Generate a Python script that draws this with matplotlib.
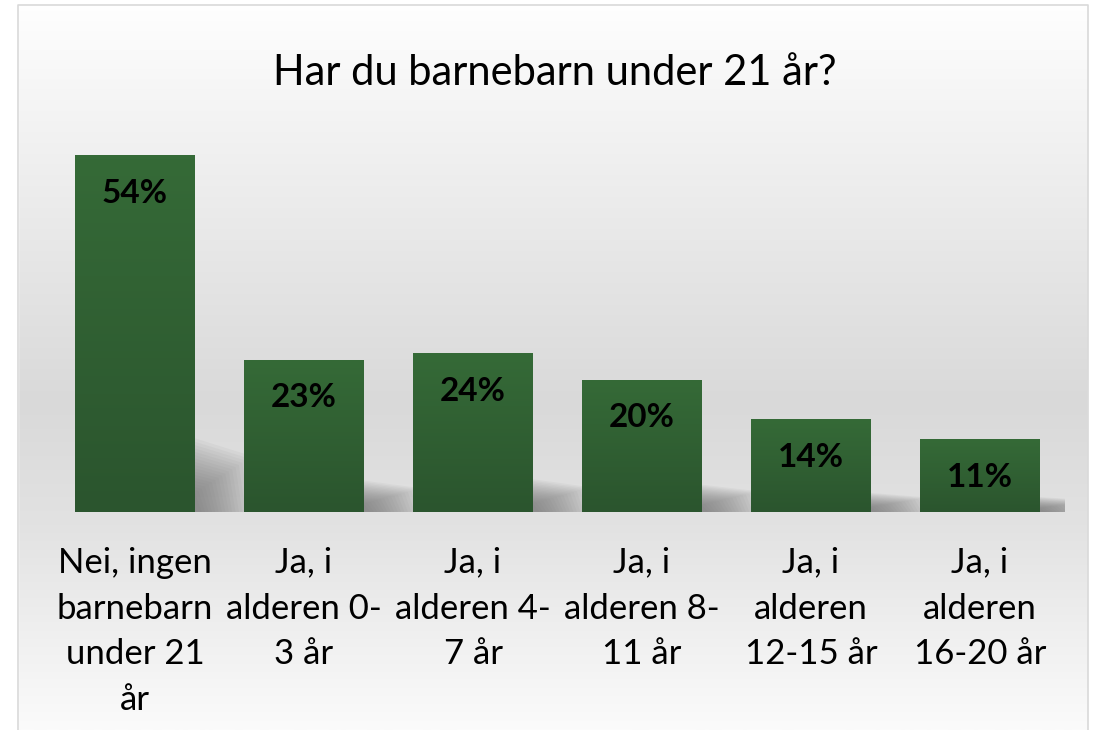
import numpy as np
import matplotlib
matplotlib.use("Agg")
import matplotlib.pyplot as plt
from matplotlib.colors import LinearSegmentedColormap
from matplotlib.patches import Polygon, Rectangle

plt.rcParams['font.family'] = ['Lato', 'DejaVu Sans']

# data
categories = ["Nei, ingen\nbarnebarn\nunder 21\når",
              "Ja, i\nalderen 0-\n3 år",
              "Ja, i\nalderen 4-\n7 år",
              "Ja, i\nalderen 8-\n11 år",
              "Ja, i\nalderen\n12-15 år",
              "Ja, i\nalderen\n16-20 år"]
values = [54, 23, 24, 20, 14, 11]
value_labels = ["54%", "23%", "24%", "20%", "14%", "11%"]
title = "Har du barnebarn under 21 år?"

fig = plt.figure(figsize=(10.94, 7.30), dpi=100)

# background gradient (white -> light gray -> white)
bg = fig.add_axes([0, 0, 1, 1], zorder=0)
bg_cmap = LinearSegmentedColormap.from_list(
    "bg", [(0.0, "#ffffff"), (0.12, "#f6f6f6"), (0.55, "#d9d9d9"),
           (0.72, "#e2e2e2"), (1.0, "#fbfbfb")])
grad = np.linspace(0, 1, 256).reshape(-1, 1)
bg.imshow(grad, aspect="auto", cmap=bg_cmap, extent=[0, 1, 0, 1], origin="upper")
bg.add_patch(Rectangle((0, 0), 0.0165, 1, color="white", zorder=2))
bg.add_patch(Rectangle((0.9945, 0), 0.01, 1, color="white", zorder=2))
bg.add_patch(Rectangle((0, 0.993), 1, 0.01, color="white", zorder=2))
bg.plot([0.0165, 0.0165, 0.9945, 0.9945], [0, 0.993, 0.993, 0], color="#d9d9d9", lw=1.2, zorder=3)
bg.set_xlim(0, 1)
bg.set_ylim(0, 1)
bg.axis("off")

# main plot
ax = fig.add_axes([50.5 / 1094, (730 - 512) / 730, 1014 / 1094, 396.6 / 730], zorder=1)
ax.patch.set_alpha(0)
x = np.arange(len(values))
width = 0.71
bars = ax.bar(x, values, width=width, color="#315f33", zorder=3)

# vertical gradient inside each bar
bar_cmap = LinearSegmentedColormap.from_list("bar", ["#2b552e", "#356a37"])
for b in bars:
    x0, y0 = b.get_x(), b.get_y()
    w, h = b.get_width(), b.get_height()
    im = ax.imshow(np.linspace(0, 1, 100).reshape(-1, 1), cmap=bar_cmap, aspect="auto",
                   extent=[x0, x0 + w, y0, y0 + h], origin="lower", zorder=4)
    im.set_clip_path(b)
    # soft perspective shadow to the right of the bar
    sh = h * 0.26
    n = 18
    for k in range(n):
        t = k / n
        right = x0 + w + 0.36 * (1 - t) + 0.02
        top_l = sh * (1 - 0.7 * t)
        top_r = top_l * 0.6
        poly = Polygon([(x0 + 0.2, 0), (right, 0), (right - 0.04, top_r), (x0 + 0.35, top_l)],
                       closed=True, facecolor="#666666", alpha=0.055, lw=0, zorder=2)
        ax.add_patch(poly)

for xi, v, lab in zip(x, values, value_labels):
    ax.annotate(lab, (xi, v), xytext=(0, -38), textcoords="offset pixels",
                ha="center", va="center", fontsize=24, fontweight="bold",
                color="black", zorder=6)

ax.set_xlim(-0.5, len(values) - 0.5)
ax.set_ylim(0, 60)
ax.set_xticks(x)
ax.set_xticklabels(categories, fontsize=25, linespacing=1.53, color="black")
ax.tick_params(axis="x", length=0, pad=25)
ax.set_yticks([])
for s in ax.spines.values():
    s.set_visible(False)

fig.text(555 / 1094, (730 - 73) / 730, title, ha="center", va="center",
         fontsize=30, color="black")

fig.savefig("out.png", dpi=100)
